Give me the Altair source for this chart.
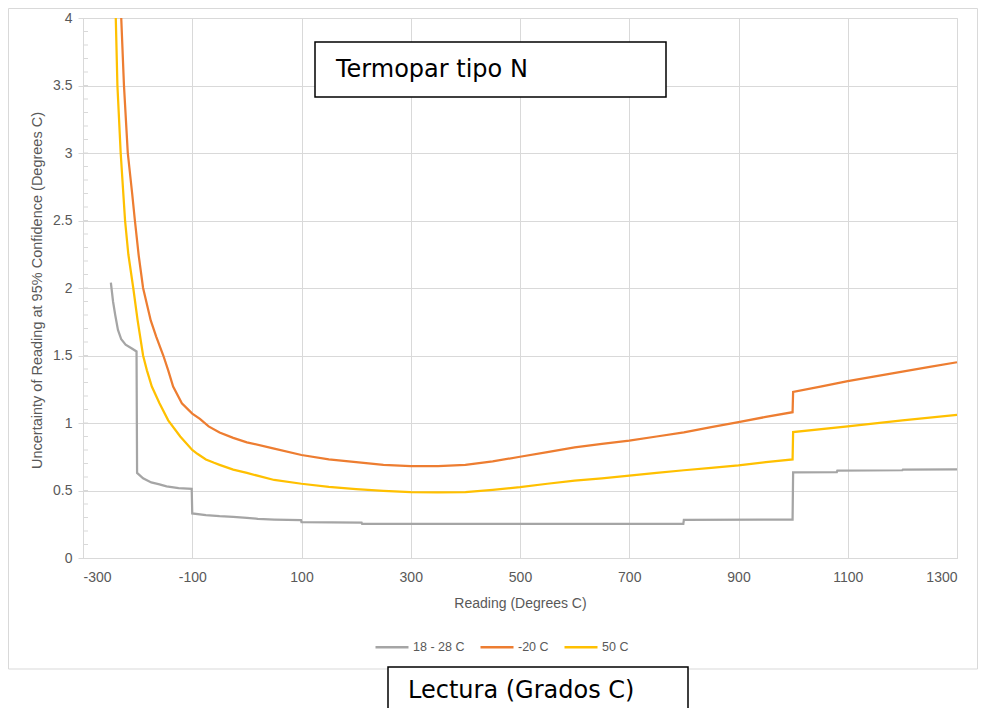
import altair as alt
import pandas as pd

# ---- data ----
series_names = ["18 - 28 C", "-20 C", "50 C"]
series_colors = ["#A5A5A5", "#ED7D31", "#FFC000"]

gray_x = [-249, -245, -241, -236, -230, -222, -212, -202, -201, -190, -175, -160, -147, -125, -101,
          -100, -75, -50, -25, 0, 20, 50, 99, 100, 210, 211, 799, 800, 999, 1000, 1080, 1081, 1200, 1201, 1300]
gray_y = [2.04, 1.90, 1.80, 1.69, 1.62, 1.58, 1.555, 1.53, 0.63, 0.59, 0.56, 0.545, 0.53, 0.518, 0.512,
          0.33, 0.318, 0.31, 0.305, 0.298, 0.29, 0.285, 0.28, 0.265, 0.262, 0.253, 0.253, 0.283, 0.285, 0.635,
          0.637, 0.648, 0.65, 0.655, 0.657]

orange_x = [-230, -225, -218, -210, -205, -198, -190, -176, -166, -153, -144, -135, -119, -100, -86, -70, -50,
            -25, 0, 50, 100, 150, 200, 250, 300, 350, 400, 450, 500, 550, 600, 650, 700, 750, 800, 850, 900, 950,
            999, 1000, 1050, 1100, 1150, 1200, 1250, 1300]
orange_y = [4.0, 3.5, 3.0, 2.7, 2.5, 2.24, 2.0, 1.76, 1.64, 1.5, 1.39, 1.27, 1.146, 1.07, 1.03, 0.975, 0.93,
            0.89, 0.857, 0.81, 0.763, 0.73, 0.71, 0.69, 0.681, 0.68, 0.69, 0.715, 0.75, 0.785, 0.82, 0.845, 0.87,
            0.90, 0.93, 0.97, 1.007, 1.045, 1.08, 1.23, 1.27, 1.31, 1.345, 1.38, 1.415, 1.45]

yellow_x = [-240, -237, -231, -223, -217, -208, -200, -190, -183, -174, -160, -144, -122, -100, -90, -75, -60,
            -50, -25, 0, 50, 100, 150, 200, 250, 300, 350, 400, 450, 500, 550, 600, 650, 700, 750, 800, 850, 900,
            950, 999, 1000, 1100, 1200, 1300]
yellow_y = [4.0, 3.5, 3.0, 2.5, 2.25, 2.0, 1.76, 1.5, 1.39, 1.27, 1.146, 1.02, 0.9, 0.80, 0.77, 0.73, 0.705,
            0.69, 0.655, 0.63, 0.578, 0.55, 0.527, 0.51, 0.497, 0.488, 0.487, 0.488, 0.505, 0.525, 0.55, 0.574,
            0.59, 0.61, 0.63, 0.65, 0.668, 0.686, 0.71, 0.73, 0.933, 0.975, 1.02, 1.06]

x_ticks = [-300, -100, 100, 300, 500, 700, 900, 1100, 1300]
y_ticks = [0, 0.5, 1, 1.5, 2, 2.5, 3, 3.5, 4]
y_minor = [round(i * 0.1, 1) for i in range(1, 40)]

title_text = "Termopar tipo N"
box_text = "Lectura (Grados C)"
x_title = "Reading (Degrees C)"
y_title = "Uncertainty of Reading at 95% Confidence (Degrees C)"

# ---- build table ----
rows = []
for name, xs, ys in zip(series_names, [gray_x, orange_x, yellow_x], [gray_y, orange_y, yellow_y]):
    for i, (a, b) in enumerate(zip(xs, ys)):
        rows.append({"Reading": a, "U": b, "Series": name, "idx": i})
df = pd.DataFrame(rows)

W, H = 874, 540
LBL = "#595959"
GRID = "#D9D9D9"
FONT = "Liberation Sans"

xscale = alt.Scale(domain=[-300, 1300], nice=False, zero=False)
yscale = alt.Scale(domain=[0, 4], nice=False)

lines = alt.Chart(df).mark_line(strokeWidth=2.25, interpolate="linear").encode(
    x=alt.X("Reading:Q", scale=xscale,
            axis=alt.Axis(values=x_ticks, title=x_title, grid=True, gridColor=GRID, ticks=False, tickSize=0,
                          domainColor=GRID, labelColor=LBL, labelFont=FONT, labelFontSize=14,
                          labelExpr="'' + datum.value",
                          labelPadding=12, titleFont=FONT, titleFontSize=14, titleFontWeight="normal",
                          titleColor=LBL, titleBaseline="middle", titleY=45, titleX=W / 2)),
    y=alt.Y("U:Q", scale=yscale,
            axis=alt.Axis(values=y_ticks, title=y_title, grid=True, gridColor=GRID, tickColor=GRID, tickSize=5,
                          domainColor=GRID, labelColor=LBL, labelFont=FONT, labelFontSize=14,
                          labelExpr="'' + datum.value",
                          labelPadding=6, titleFont=FONT, titleFontSize=14.5, titleFontWeight="normal",
                          titleColor=LBL, titleX=-46, titleY=H / 2 + 2, titleBaseline="middle")),
    color=alt.Color("Series:N", scale=alt.Scale(domain=series_names, range=series_colors),
                    legend=alt.Legend(orient="none", legendX=291, legendY=611, direction="horizontal",
                                      title=None, symbolType="stroke", symbolSize=1089, symbolStrokeWidth=2.5,
                                      labelFont=FONT, labelFontSize=12.5, labelColor=LBL,
                                      labelOffset=3, columnPadding=10)),
    order="idx:Q",
)

minor = alt.Chart(pd.DataFrame({"v": y_minor})).mark_rule(color=GRID, strokeWidth=1).encode(
    y=alt.Y("v:Q", scale=yscale), x=alt.value(0), x2=alt.value(5))

one = pd.DataFrame({"a": [0]})
border = alt.Chart(one).mark_rect(filled=False, stroke=GRID, strokeWidth=1).encode(
    x=alt.value(-74.5), x2=alt.value(894.5), y=alt.value(-9.5), y2=alt.value(651))
title_box = alt.Chart(one).mark_rect(fill="white", stroke="black", strokeWidth=1.5).encode(
    x=alt.value(232), x2=alt.value(583), y=alt.value(24), y2=alt.value(79))
title_lbl = alt.Chart(one).mark_text(text=title_text, font="DejaVu Sans", fontSize=24, color="black",
                                     align="left", baseline="alphabetic").encode(x=alt.value(253), y=alt.value(59))
low_box = alt.Chart(one).mark_rect(fill="white", stroke="black", strokeWidth=1.5).encode(
    x=alt.value(305), x2=alt.value(605), y=alt.value(649), y2=alt.value(730))
low_lbl = alt.Chart(one).mark_text(text=box_text, font="DejaVu Sans", fontSize=24, color="black",
                                   align="left", baseline="alphabetic").encode(x=alt.value(325), y=alt.value(680))

chart = alt.layer(border, minor, lines, title_box, title_lbl, low_box, low_lbl).properties(
    width=W, height=H, autosize="none",
    padding={"left": 75, "top": 10, "right": 21, "bottom": 150},
).configure_view(stroke=None).configure(background="white")

chart.save("out.html", embed_options={"renderer": "svg", "actions": False})
